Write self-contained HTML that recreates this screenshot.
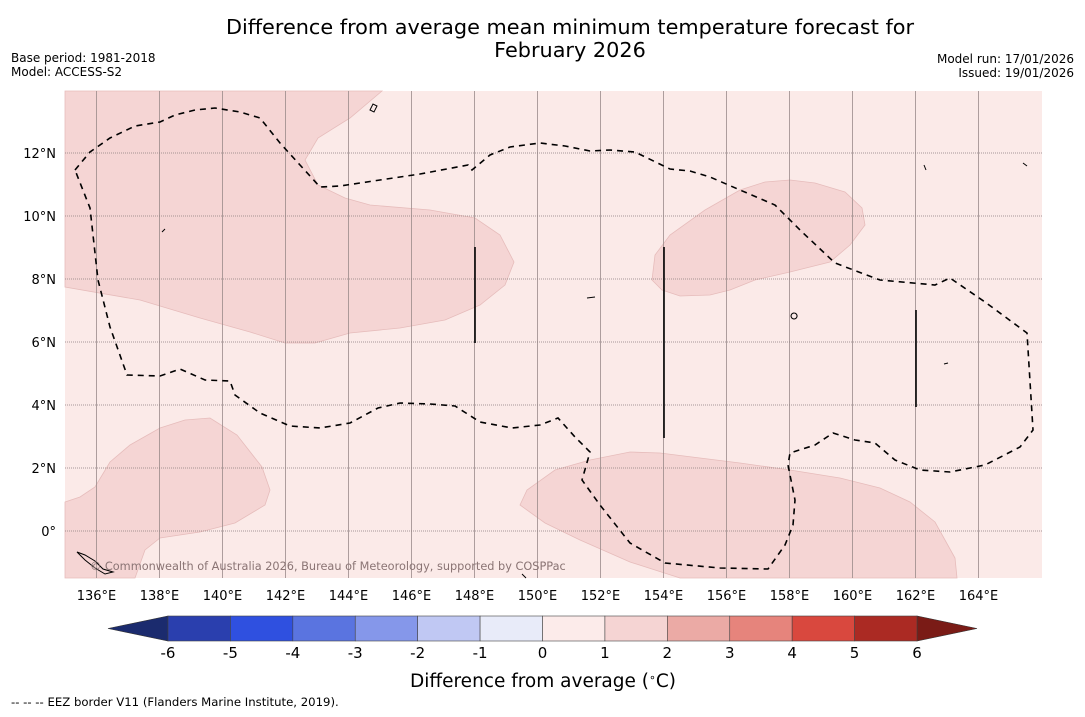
<!DOCTYPE html>
<html><head><meta charset="utf-8">
<style>
body{margin:0;background:#fff;width:1085px;height:713px;overflow:hidden;font-family:"DejaVu Sans","Liberation Sans",sans-serif;}
svg text{font-family:"DejaVu Sans","Liberation Sans",sans-serif;}
</style></head>
<body>
<svg id="chart" width="1085" height="713" viewBox="0 0 1085 713" xmlns="http://www.w3.org/2000/svg">
<text x="570" y="34" font-size="20.8" text-anchor="middle">Difference from average mean minimum temperature forecast for</text>
<text x="570" y="57" font-size="20.8" text-anchor="middle">February 2026</text>
<text x="11" y="62" font-size="12">Base period: 1981-2018</text>
<text x="11" y="76" font-size="12">Model: ACCESS-S2</text>
<text x="1074" y="63" font-size="12" text-anchor="end">Model run: 17/01/2026</text>
<text x="1074" y="77" font-size="12" text-anchor="end">Issued: 19/01/2026</text>

<g>
<rect x="65" y="91" width="977" height="487" fill="#fbeae8"/>
<g fill="#f5d5d4" stroke="#e6bcbb" stroke-width="0.8">
<path d="M65,91 L382,91 L350,118 L318,138 L305,160 L318,185 L345,198 L370,205 L430,210 L475,218 L500,235 L514,262 L505,285 L480,305 L445,320 L400,328 L350,333 L315,343 L285,343 L250,332 L200,318 L140,300 L65,287Z"/>
<path d="M652,280 L655,255 L670,235 L705,210 L740,190 L765,182 L790,180 L815,183 L845,192 L862,208 L865,225 L850,245 L830,262 L790,272 L755,280 L730,290 L710,295 L680,296 L662,290Z"/>
<path d="M65,502 L80,497 L95,487 L110,462 L130,445 L160,428 L185,420 L210,418 L237,435 L262,467 L270,490 L265,505 L235,523 L200,532 L160,538 L145,550 L135,578 L65,578Z"/>
<path d="M520,505 L527,490 L555,470 L590,460 L630,452 L660,453 L700,458 L740,463 L790,470 L840,478 L880,488 L910,502 L935,522 L955,558 L957,578 L680,578 L630,562 L580,540 L545,523Z"/>
</g>
<g id="grid"></g>
<path fill="none" stroke="#000" stroke-width="1.6" stroke-dasharray="6,5" d="M75,170 L90,152 L110,138 L135,126 L160,122 L175,115 L195,110 L215,108 L240,112 L260,118 L280,143 L300,165 L320,187 L340,186 L380,180 L420,174 L468,165 L472,170 L490,155 L510,147 L540,143 L565,146 L590,151 L610,150 L635,152 L670,169 L690,171 L710,177 L740,190 L775,205 L800,230 L835,263 L880,280 L935,285 L950,278 L985,302 L1027,333 L1033,430 L1020,447 L985,465 L950,472 L920,470 L895,460 L875,443 L855,440 L833,433 L815,445 L790,453 L788,465 L795,500 L793,525 L785,545 L768,569 L720,568 L665,563 L630,543 L600,505 L582,480 L590,452 L575,437 L558,418 L540,425 L512,428 L480,422 L455,406 L430,404 L400,403 L378,408 L350,423 L320,428 L290,426 L260,413 L235,395 L230,381 L205,380 L180,369 L160,376 L127,375 L110,327 L98,280 L90,208 L75,170"/>
<g stroke="#000" stroke-width="1.6">
<line x1="475" y1="247" x2="475" y2="343"/>
<line x1="664" y1="247" x2="664" y2="438"/>
<line x1="916" y1="310" x2="916" y2="407"/>
</g>
<g fill="none" stroke="#000" stroke-width="1">
<path d="M370,110 l3,-6 l4,2 l-3,6z"/><path d="M162,232 l3,-3"/><path d="M587,298 l8,-1"/><path d="M794,313 a3,3 0 1,0 0.1,0"/><path d="M944,364 l4,-1"/>
<path d="M77,552 l8,3 l10,6 l8,8 l10,3 l-8,2 l-10,-6 l-10,-8z"/><path d="M1023,163 l4,3"/><path d="M924,165 l2,5"/><path d="M522,574 l4,4"/>
</g>
<text x="90" y="570" font-size="11.3" fill="#8a7474">© Commonwealth of Australia 2026, Bureau of Meteorology, supported by COSPPac</text>
</g>
<g id="xaxis"></g>
<g id="yaxis"></g>
<g id="cbar"></g>
<text x="543" y="687" font-size="18.5" text-anchor="middle">Difference from average (<tspan baseline-shift="super" font-size="11">∘</tspan>C)</text>
<text x="11" y="706" font-size="11.7">--  --  -- EEZ border V11 (Flanders Marine Institute, 2019).</text>
</svg>
<script>
const lonTicks=[136,138,140,142,144,146,148,150,152,154,156,158,160,162,164];
const latTicks=[0,2,4,6,8,10,12];
const cbarBounds=[-6,-5,-4,-3,-2,-1,0,1,2,3,4,5,6];
const cbarColors=["#2a3fae","#2f50e0","#5a74e0","#8597ea","#c0c8f3","#e8ebf9","#fcebea","#f5d4d3","#ebaaa5","#e6847c","#d9483e","#ab2a23"];
const NS="http://www.w3.org/2000/svg";
const xL=lon=>65+(lon-135)*31.5;
const yL=lat=>531-lat*31.5;
const cx=v=>168+(v+6)*(917-168)/12;
function mk(tag,attrs,parent){const e=document.createElementNS(NS,tag);for(const k in attrs)e.setAttribute(k,attrs[k]);parent.appendChild(e);return e;}
const grid=document.getElementById('grid'),xa=document.getElementById('xaxis'),ya=document.getElementById('yaxis'),cb=document.getElementById('cbar');
lonTicks.forEach(l=>{
 const g=mk('line',{x1:xL(l),x2:xL(l),y1:91,y2:578,stroke:'#9a8a8a','stroke-width':0.8},grid);
 
 
 const t=mk('text',{x:xL(l),y:600,'font-size':13,'text-anchor':'middle'},xa);
 t.textContent=l+'°E';
 
 
});
latTicks.forEach(l=>{
 const g=mk('line',{x1:65,x2:1042,y1:yL(l),y2:yL(l),stroke:'#8a7c7c','stroke-width':0.8,'stroke-dasharray':'1,1'},grid);
 
 
 const t=mk('text',{x:56,y:yL(l)+5,'font-size':13,'text-anchor':'end'},ya);
 t.textContent=l===0?'0°':l+'°N';
 
 
});
const y0=616,y1=641,ym=628.5;
const lt=mk('polygon',{points:`108,${ym} ${cx(-6)},${y0} ${cx(-6)},${y1}`,fill:'#1b2b6e',stroke:'#333','stroke-width':0.6},cb);


const rt=mk('polygon',{points:`977,${ym} ${cx(6)},${y0} ${cx(6)},${y1}`,fill:'#7a1b16',stroke:'#333','stroke-width':0.6},cb);


cbarColors.forEach((c,i)=>{
 const r=mk('rect',{x:cx(cbarBounds[i]),y:y0,width:cx(cbarBounds[i+1])-cx(cbarBounds[i]),height:y1-y0,fill:c,stroke:'#444','stroke-width':0.6},cb);
 
 
});
cbarBounds.forEach(v=>{
 const t=mk('text',{x:cx(v),y:658,'font-size':15,'text-anchor':'middle'},cb);
 t.textContent=v;
 
 
});
</script>
</body></html>
